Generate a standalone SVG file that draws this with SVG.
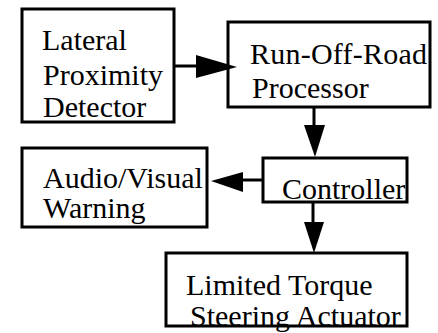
<svg xmlns="http://www.w3.org/2000/svg" width="438" height="333" viewBox="0 0 438 333">
<style>
  .box { fill: none; stroke: #000; stroke-width: 3; }
  .lbl { font-family: 'Liberation Serif', 'DejaVu Serif', 'Times New Roman', serif; font-size: 30px; fill: #000; }
  .ln { stroke: #000; stroke-width: 3; fill: none; }
  .head { fill: #000; stroke: none; }
</style>
<rect width="438" height="333" fill="#fff"/>
<g id="connectors">
  <line class="ln" x1="175" y1="66" x2="198" y2="66"/>
  <polygon class="head" points="196,55 237,67 196,78"/>
  <line class="ln" x1="314" y1="107" x2="314" y2="126"/>
  <polygon class="head" points="304,125 325,125 315,157"/>
  <line class="ln" x1="262" y1="180" x2="241" y2="180"/>
  <polygon class="head" points="243,172 243,192 211,181"/>
  <line class="ln" x1="313" y1="202" x2="313" y2="223"/>
  <polygon class="head" points="304,222 324,222 314,253"/>
</g>
<g id="lateral-proximity-detector">
  <text class="lbl" x="42" y="50" font-family="Liberation Serif, serif">Lateral</text>
  <text class="lbl" x="43" y="85" font-family="Liberation Serif, serif">Proximity</text>
  <text class="lbl" x="43" y="117" font-family="Liberation Serif, serif">Detector</text>
  <rect class="box" x="22" y="9" width="152" height="113"/>
</g>
<g id="run-off-road-processor">
  <text class="lbl" x="250" y="64" textLength="177" lengthAdjust="spacing">Run-Off-Road</text>
  <text class="lbl" x="252" y="98">Processor</text>
  <rect class="box" x="228" y="22" width="202" height="85"/>
</g>
<g id="audio-visual-warning">
  <text class="lbl" x="43" y="188">Audio/Visual</text>
  <text class="lbl" x="43" y="218">Warning</text>
  <rect class="box" x="22" y="148" width="185" height="79"/>
</g>
<g id="controller">
  <text class="lbl" x="282" y="199">Controller</text>
  <rect class="box" x="263" y="158" width="144" height="44"/>
</g>
<g id="limited-torque-steering-actuator">
  <text class="lbl" x="186" y="295">Limited Torque</text>
  <text class="lbl" x="190" y="326">Steering Actuator</text>
  <rect class="box" x="166" y="253" width="241" height="73"/>
</g>
</svg>
